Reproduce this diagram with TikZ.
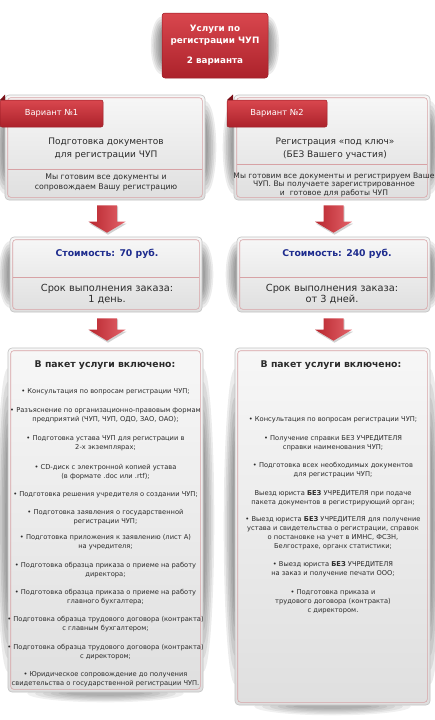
\documentclass[tikz,border=0pt]{standalone}
\usepackage{fontspec}
\setmainfont{DejaVu Sans}
\usetikzlibrary{calc}
\pgfdeclarelayer{bg}
\pgfsetlayers{bg,main}
\definecolor{txt}{HTML}{2B2B2B}
\definecolor{redtop}{HTML}{D9474E}
\definecolor{redbot}{HTML}{AC222B}
\definecolor{redline}{HTML}{9A1C25}
\definecolor{folddark}{HTML}{7A1018}
\definecolor{pinkline}{HTML}{D7A2A5}
\definecolor{pborder}{HTML}{C2C2C2}
\definecolor{ptop}{HTML}{F7F7F7}
\definecolor{pbot}{HTML}{DFDFDF}
\definecolor{costblue}{HTML}{1E2C8E}
\definecolor{arrL}{HTML}{B8262E}
\definecolor{arrR}{HTML}{E3636A}
\newcommand\ftop{\fontsize{8.8}{12}\selectfont\bfseries}
\newcommand\ftab{\fontsize{8.3}{10}\selectfont}
\newcommand\ftitle{\fontsize{9}{13}\selectfont}
\newcommand\fsubA{\fontsize{7.8}{10}\selectfont}
\newcommand\fsubB{\fontsize{7.6}{8.8}\selectfont}
\newcommand\fcost{\fontsize{9.3}{10}\selectfont\bfseries}
\newcommand\fterm{\fontsize{9.8}{10.5}\selectfont}
\newcommand\fpack{\fontsize{9.3}{11}\selectfont\bfseries}
\newcommand\fitm{\fontsize{6.7}{9}\selectfont}
\newcommand\innerframe[1]{\draw[pinkline, line width=0.6pt, rounded corners=3pt] ($(#1.north west)+(3,3)$) rectangle ($(#1.south east)+(-3,-3)$);}
\newcommand\divider[2]{\draw[pinkline, line width=0.6pt] ($(#1.west |- 0,#2)+(3,0)$) -- ($(#1.east |- 0,#2)+(-3,0)$);}
\newcommand\sideshadow[1]{%
  \foreach \k in {0,...,5}{%
    \fill[black, opacity=0.075] let \p1=($(#1.north)-(#1.south)$) in
      (#1.west) ellipse [x radius={(11-1.7*\k)*1pt}, y radius={\y1*(0.44-0.04*\k)}]
      (#1.east) ellipse [x radius={(11-1.7*\k)*1pt}, y radius={\y1*(0.44-0.04*\k)}];
  }}
\newcommand\bottomshadow[1]{%
  \foreach \k in {0,...,5}{%
    \fill[black, opacity=0.06] let \p1=($(#1.east)-(#1.west)$) in
      ($(#1.south)+(0,1)$) ellipse [x radius={\x1*(0.40-0.04*\k)}, y radius={(9-1.3*\k)*1pt}];
  }}
\newcommand\blockarrow[2]{%
  \fill[black, opacity=0.18] ($(#1)+(-9,1)$) -- ($(#1)+(11,1)$) -- ($(#2)+(11,-9)$) -- ($(#2)+(19.5,-9)$) -- ($(#2)+(1,2)$) -- ($(#2)+(-17.5,-9)$) -- ($(#2)+(-9,-9)$) -- cycle;
  \path[left color=arrL, right color=arrR] ($(#1)+(-10,0)$) -- ($(#1)+(10,0)$) -- ($(#2)+(10,-11)$) -- ($(#2)+(18.5,-11)$) -- (#2) -- ($(#2)+(-18.5,-11)$) -- ($(#2)+(-10,-11)$) -- cycle;}
\begin{document}
\begin{tikzpicture}[x=1pt,y=-1pt,
  panel/.style={draw=pborder, line width=0.6pt, rounded corners=4pt, top color=ptop, bottom color=pbot, inner sep=0pt},
  redbox/.style={draw=redline, line width=0.5pt, top color=redtop, bottom color=redbot, inner sep=0pt, text=white},
  tabbox/.style={redbox, rounded corners=2pt, minimum height=27, font=\ftab},
  ttl/.style={align=center, text=txt, font=\ftitle, inner sep=0pt},
  subA/.style={align=center, text=txt, font=\fsubA, inner sep=0pt},
  subB/.style={align=center, text=txt, font=\fsubB, inner sep=0pt},
  cost/.style={text=costblue, font=\fcost, inner sep=0pt},
  term/.style={align=center, text=txt, font=\fterm, inner sep=0pt},
  pack/.style={text=txt, font=\fpack, inner sep=0pt},
  itm/.style={align=center, text=txt, font=\fitm, inner sep=0pt}]
\useasboundingbox (0,0) rectangle (434,720);

% top box
\node[redbox, rounded corners=3pt, minimum width=106, minimum height=65, align=center, font=\ftop] (top) at (215,45.5) {Услуги по\\регистрации ЧУП\\[8pt]2 варианта};

% panels
\node[panel, minimum width=200, minimum height=105] (p1) at (105,147.5) {};
\node[panel, minimum width=196, minimum height=105] (p2) at (332,147.5) {};
\node[panel, minimum width=192, minimum height=75] (c1) at (106,274.5) {};
\node[panel, minimum width=193, minimum height=75] (c2) at (333.5,274.5) {};
\node[panel, minimum width=195, minimum height=344] (k1) at (105.5,520) {};
\node[panel, minimum width=195, minimum height=357] (k2) at (332.5,526.5) {};

\begin{pgfonlayer}{bg}
  \fill[white] (0,0) rectangle (434,720);
  \sideshadow{top}
  \sideshadow{p1}\sideshadow{p2}
  \sideshadow{c1}\sideshadow{c2}
  \sideshadow{k1}\sideshadow{k2}
  \bottomshadow{k1}\bottomshadow{k2}
\end{pgfonlayer}

\innerframe{p1}\innerframe{p2}\innerframe{c1}\innerframe{c2}\innerframe{k1}\innerframe{k2}
\divider{p1}{169}
\divider{p2}{164}
\divider{c1}{277}
\divider{c2}{277}

% tabs
\node[tabbox, minimum width=103] (tab1) at (51.5,113.5) {Вариант №1};
\fill[folddark] (0,100) -- (5,94.5) -- (5,100) -- cycle;
\node[tabbox, minimum width=100] (tab2) at (277,113.5) {Вариант №2};
\fill[folddark] (227,100) -- (233,94.5) -- (233,100) -- cycle;

% panel 1 texts
\node[ttl] (p1t) at (106,148.5) {Подготовка документов\\для регистрации ЧУП};
\node[subA] (p1s) at (106,182.5) {Мы готовим все документы и\\сопровождаем Вашу регистрацию};
\node[ttl] (p2t) at (335,148.5) {Регистрация «под ключ»\\(БЕЗ Вашего участия)};
\node[subB] (p2s) at (334,185) {Мы готовим все документы и регистрируем Ваше\\ЧУП. Вы получаете зарегистрированное\\и\ \ готовое для работы ЧУП};

% cost texts
\node[cost] (c1a) at (107,254) {Стоимость: 70 руб.};
\node[term] (c1b) at (107,294) {Срок выполнения заказа:\\1 день.};
\node[cost] (c2a) at (337,254) {Стоимость: 240 руб.};
\node[term] (c2b) at (332,294) {Срок выполнения заказа:\\от 3 дней.};

% arrows
\coordinate (a1s) at ($(c1.north |- p1.south)+(1,5)$);
\coordinate (a1e) at ($(c1.north)+(1,-4)$);
\coordinate (a2s) at ($(k1.north |- c1.south)+(1.5,6)$);
\coordinate (a2e) at ($(k1.north)+(1.5,-7)$);
\coordinate (b1s) at ($(c2.north |- p2.south)+(0,5)$);
\coordinate (b1e) at ($(c2.north)+(0,-4)$);
\coordinate (b2s) at ($(c2.south)+(0,6)$);
\coordinate (b2e) at ($(c2.south |- k2.north)+(0,-7)$);
\blockarrow{a1s}{a1e}
\blockarrow{a2s}{a2e}
\blockarrow{b1s}{b1e}
\blockarrow{b2s}{b2e}

% package titles
\node[pack] (k1t) at (105,365) {В пакет услуги включено:};
\node[pack] (k2t) at (331,365) {В пакет услуги включено:};

% left items
\node[itm] (l1) at (105.5,392) {• Консультация по вопросам регистрации ЧУП;};
\node[itm] (l2) at (105.5,415.5) {• Разъяснение по организационно-правовым формам\\предприятий (ЧУП, ЧУП, ОДО, ЗАО, ОАО);};
\node[itm] (l3) at (105.5,443.5) {• Подготовка устава ЧУП для регистрации в\\2-х экземплярах;};
\node[itm] (l4) at (105.5,472) {• CD-диск с электронной копией устава\\(в формате .doc или .rtf);};
\node[itm] (l5) at (105.5,495) {• Подготовка решения учредителя о создании ЧУП;};
\node[itm] (l6) at (105.5,517) {• Подготовка заявления о государственной\\регистрации ЧУП;};
\node[itm] (l7) at (105.5,542.5) {• Подготовка приложения к заявлению (лист А)\\на учредителя;};
\node[itm] (l8) at (105.5,570) {• Подготовка образца приказа о приеме на работу\\директора;};
\node[itm] (l9) at (105.5,597.5) {• Подготовка образца приказа о приеме на работу\\главного бухгалтера;};
\node[itm] (l10) at (105.5,624.5) {• Подготовка образца трудового договора (контракта)\\с главным бухгалтером;};
\node[itm] (l11) at (105.5,652.5) {• Подготовка образца трудового договора (контракта)\\с директором;};
\node[itm] (l12) at (105.5,679.5) {• Юридическое сопровождение до получения\\свидетельства о государственной регистрации ЧУП.};

% right items
\node[itm] (r1) at (333,420) {• Консультация по вопросам регистрации ЧУП;};
\node[itm] (r2) at (333,443.5) {• Получение справки БЕЗ УЧРЕДИТЕЛЯ\\справки наименования ЧУП;};
\node[itm] (r3) at (333,470.5) {• Подготовка всех необходимых документов\\для регистрации ЧУП;};
\node[itm] (r4) at (333,498.5) {Выезд юриста \textbf{БЕЗ} УЧРЕДИТЕЛЯ при подаче\\пакета документов в регистрирующий орган;};
\node[itm] (r5) at (333,533.5) {• Выезд юриста \textbf{БЕЗ} УЧРЕДИТЕЛЯ для получение\\устава и свидетельства о регистрации, справок\\о постановке на учет в ИМНС, ФСЗН,\\Белгострахе, органх статистики;};
\node[itm] (r6) at (333,569.5) {• Выезд юриста \textbf{БЕЗ} УЧРЕДИТЕЛЯ\\на заказ и получение печати ООО;};
\node[itm] (r7) at (333,602) {• Подготовка приказа и\\трудового договора (контракта)\\с директором.};
\end{tikzpicture}
\end{document}
